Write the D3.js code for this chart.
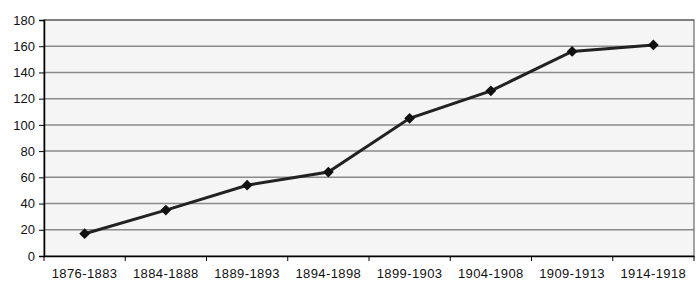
<!DOCTYPE html>
<html><head><meta charset="utf-8">
<script src="https://d3js.org/d3.v7.min.js"></script>
<style>body{margin:0;background:#fff}svg{display:block}text{font-family:"Liberation Sans",Arial,sans-serif;fill:#111}</style>
</head><body><svg id="c" width="700" height="296"></svg>
<script>
const categories = ["1876-1883","1884-1888","1889-1893","1894-1898","1899-1903","1904-1908","1909-1913","1914-1918"];
const values = [17, 35, 54, 64, 105, 126, 156, 161];
const yTicks = [0,20,40,60,80,100,120,140,160,180];

const svg = d3.select("#c");
const L=44, R=694, T=20, B=256;
const x = d3.scaleBand().domain(categories).range([L,R]);
const y = d3.scaleLinear().domain([0,180]).range([B,T]);

svg.append("rect").attr("x",L).attr("y",T).attr("width",R-L).attr("height",B-T).attr("fill","#f5f5f5");
svg.append("g").selectAll("line").data(yTicks.filter(d=>d>0)).join("line")
  .attr("x1",L).attr("x2",R).attr("y1",d=>y(d)).attr("y2",d=>y(d))
  .attr("stroke","#8a8a8a").attr("stroke-width",1.5);
svg.append("rect").attr("x",L).attr("y",T).attr("width",R-L).attr("height",B-T)
  .attr("fill","none").attr("stroke","#666").attr("stroke-width",1.2);

const ya = svg.append("g").attr("transform",`translate(${L},0)`)
  .call(d3.axisLeft(y).tickValues(yTicks).tickSize(5).tickPadding(4));
ya.select(".domain").attr("stroke","#000").attr("stroke-width",1.5);
ya.selectAll(".tick line").attr("stroke","#000");
ya.selectAll("text").style("font-size","13px").style("font-family","Liberation Sans, Arial, sans-serif");

const xa = svg.append("g").attr("transform",`translate(0,${B})`)
  .call(d3.axisBottom(x).tickSize(5).tickPadding(8).tickSizeOuter(0));
xa.select(".domain").attr("stroke","#000").attr("stroke-width",1.5);
xa.selectAll(".tick line").attr("transform",`translate(${-x.bandwidth()/2},0)`).attr("stroke","#000");
svg.append("line").attr("x1",R).attr("x2",R).attr("y1",B).attr("y2",B+5).attr("stroke","#000");
xa.selectAll("text").style("font-size","13px").style("font-family","Liberation Sans, Arial, sans-serif").style("letter-spacing","0.4px");

const cx = d=>x(d)+x.bandwidth()/2;
svg.append("path").datum(categories.map((c,i)=>[cx(c),y(values[i])]))
  .attr("d",d3.line()).attr("fill","none").attr("stroke","#222").attr("stroke-width",3);
svg.append("g").selectAll("path").data(categories).join("path")
  .attr("d",d3.symbol(d3.symbolSquare,58))
  .attr("transform",(c,i)=>`translate(${cx(c)},${y(values[i])}) rotate(45)`).attr("fill","#111");
</script></body></html>
